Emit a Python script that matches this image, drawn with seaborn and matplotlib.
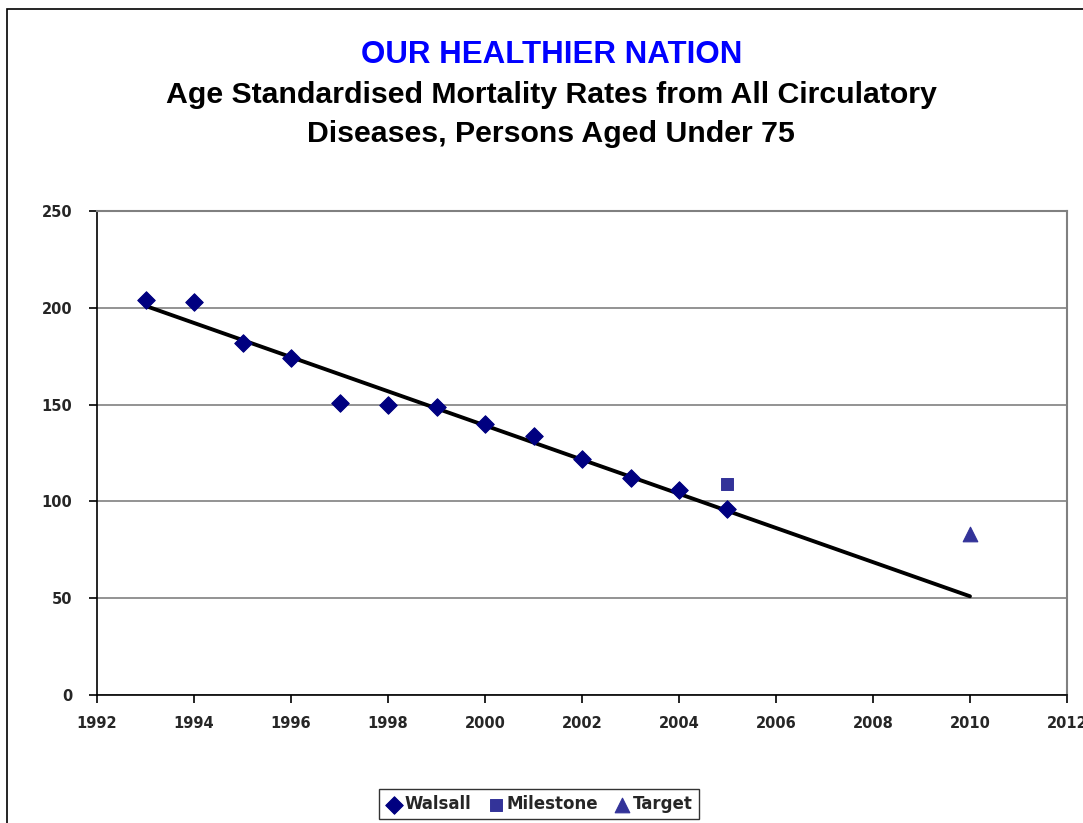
import matplotlib
matplotlib.use('Agg')
import matplotlib.pyplot as plt
import pandas as pd
import seaborn as sns
from matplotlib.patches import Rectangle

# data
walsall_years = [1993, 1994, 1995, 1996, 1997, 1998, 1999, 2000, 2001, 2002, 2003, 2004, 2005]
walsall_rates = [204, 203, 182, 174, 151, 150, 149, 140, 134, 122, 112, 106, 96]
milestone_years = [2005]
milestone_rates = [109]
target_years = [2010]
target_rates = [83]
trend_years = [1993, 2010]
trend_rates = [201, 51]

x_ticks = [1992, 1994, 1996, 1998, 2000, 2002, 2004, 2006, 2008, 2010, 2012]
y_ticks = [0, 50, 100, 150, 200, 250]

sns.set_theme(style='white')
plt.rcParams['font.family'] = ['Liberation Sans', 'DejaVu Sans']

walsall = pd.DataFrame({'year': walsall_years, 'rate': walsall_rates})
milestone = pd.DataFrame({'year': milestone_years, 'rate': milestone_rates})
target = pd.DataFrame({'year': target_years, 'rate': target_rates})
trend = pd.DataFrame({'year': trend_years, 'rate': trend_rates})

fig = plt.figure(figsize=(10.83, 8.23), dpi=100)
ax = fig.add_axes([0.0896, 0.1555, 0.8956, 0.5881])

# outer chart border (right/bottom run off the image)
fig.patches.append(Rectangle((7 / 1083, -0.05), 1.2, 1 - 9 / 823 + 0.05,
                             transform=fig.transFigure, fill=False,
                             edgecolor='black', linewidth=1.2))

sns.lineplot(data=trend, x='year', y='rate', color='black', linewidth=2.8, ax=ax,
             legend=False, zorder=2)
sns.scatterplot(data=walsall, x='year', y='rate', marker='D', s=80, color='#000080',
                edgecolor='#000080', ax=ax, label='Walsall', zorder=3)
sns.scatterplot(data=milestone, x='year', y='rate', marker='s', s=75, color='#333399',
                edgecolor='#333399', ax=ax, label='Milestone', zorder=3)
sns.scatterplot(data=target, x='year', y='rate', marker='^', s=110, color='#333399',
                edgecolor='#333399', ax=ax, label='Target', zorder=3)

ax.set_xlim(1992, 2012)
ax.set_ylim(0, 250)
ax.set_xticks(x_ticks)
ax.set_yticks(y_ticks)
ax.set_xlabel('')
ax.set_ylabel('')
ax.yaxis.grid(True, color='#808080', linewidth=1.2)
ax.set_axisbelow(True)
for side in ['left', 'bottom']:
    ax.spines[side].set_color('black')
    ax.spines[side].set_linewidth(1.2)
for side in ['top', 'right']:
    ax.spines[side].set_color('#808080')
    ax.spines[side].set_linewidth(1.5)
ax.tick_params(axis='both', direction='out', length=6, width=1.2, color='black',
               labelsize=10.5, bottom=True, left=True)
ax.tick_params(axis='x', pad=9)
ax.tick_params(axis='y', pad=12)
for lab in ax.get_xticklabels() + ax.get_yticklabels():
    lab.set_fontweight('bold')
    lab.set_family('DejaVu Sans')

fig.text(0.509, 0.933, 'OUR HEALTHIER NATION', ha='center', va='center',
         color='#0000FF', fontsize=22.5, fontweight='bold')
fig.text(0.509, 1 - 95 / 823, 'Age Standardised Mortality Rates from All Circulatory',
         ha='center', va='center', color='black', fontsize=21.8, fontweight='bold')
fig.text(0.509, 1 - 134 / 823, 'Diseases, Persons Aged Under 75',
         ha='center', va='center', color='black', fontsize=21.8, fontweight='bold')

leg = ax.legend(loc='center', bbox_to_anchor=(539 / 1083, 1 - 804 / 823),
                bbox_transform=fig.transFigure, ncol=3, frameon=True, fancybox=False,
                handletextpad=0.1, columnspacing=0.9, borderpad=0.35,
                handlelength=1.1, prop={'weight': 'bold', 'size': 12, 'family': 'DejaVu Sans'})
leg.get_frame().set_edgecolor('black')
leg.get_frame().set_linewidth(1.0)

fig.savefig('out.png', dpi=100)
